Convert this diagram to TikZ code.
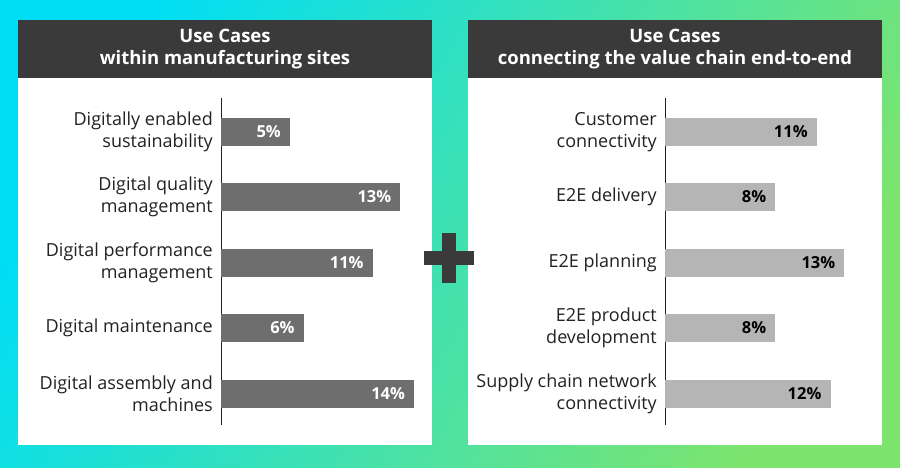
\documentclass[tikz,border=0pt]{standalone}
\usepackage{fontspec}
\setmainfont{Open Sans}
\begin{document}
\begin{tikzpicture}[x=1pt,y=-1pt,
  panel/.style={fill=white,draw=none},
  head/.style={fill=hdr,draw=none,text=white,font=\bfseries\fontsize{18.5}{22}\selectfont,align=center},
  lab/.style={anchor=east,align=right,font=\fontsize{18}{22}\selectfont,text=txt,inner sep=0},
  barA/.style={fill=barL,draw=none},
  barB/.style={fill=barR,draw=none},
  valA/.style={anchor=east,text=white,font=\bfseries\fontsize{16.5}{18}\selectfont,inner sep=0},
  valB/.style={anchor=east,text=black,font=\bfseries\fontsize{16.5}{18}\selectfont,inner sep=0},
  axis/.style={draw=txt,line width=0.8pt}]
\definecolor{hdr}{HTML}{3A3A3A}
\definecolor{txt}{HTML}{222222}
\definecolor{barL}{HTML}{6E6E6E}
\definecolor{barR}{HTML}{B5B5B5}
\definecolor{bgA}{RGB}{0,222,245}
\definecolor{bgB}{RGB}{125,228,110}
\useasboundingbox (0,0) rectangle (900,467);
\shade[shading=axis,left color=bgA,right color=bgB,shading angle=60] (0,0) rectangle (900,467);
\fill[panel] (18,20) rectangle (432,445);
\fill[panel] (468,20) rectangle (882,445);
\node[head,minimum width=414,minimum height=58,inner sep=0] (hl) at (225,49) {Use Cases\\within manufacturing sites};
\node[head,minimum width=414,minimum height=58,inner sep=0] (hr) at (675,49) {Use Cases\\connecting the value chain end-to-end};
\fill[hdr] (424,251) rectangle (474,265);
\fill[hdr] (442,233) rectangle (456,283);
\node[inner sep=0] (plus) at (449,258) {};
\coordinate (la1) at (221,98); \coordinate (la2) at (221,425);
\coordinate (ra1) at (665,98); \coordinate (ra2) at (665,425);
\draw[axis] (la1) -- (la2);
\draw[axis] (ra1) -- (ra2);
\foreach \y/\v/\t [count=\i] in {132/5/{Digitally enabled\\sustainability},197/13/{Digital quality\\management},263/11/{Digital performance\\management},328/6/{Digital maintenance},394/14/{Digital assembly and\\machines}}{
  \fill[barA] (221,\y-14) rectangle ({221+13.8*\v},\y+14);
  \node[valA] (lv\i) at ({221+13.8*\v-9},\y) {\v\%};
  \node[lab] (ll\i) at (213,\y) {\t};
}
\foreach \y/\v/\t [count=\i] in {132/11/{Customer\\connectivity},197/8/{E2E delivery},263/13/{E2E planning},328/8/{E2E product\\development},394/12/{Supply chain network\\connectivity}}{
  \fill[barB] (665,\y-14) rectangle ({665+13.8*\v},\y+14);
  \node[valB] (rv\i) at ({665+13.8*\v-9},\y) {\v\%};
  \node[lab] (rl\i) at (657,\y) {\t};
}
\end{tikzpicture}
\end{document}
